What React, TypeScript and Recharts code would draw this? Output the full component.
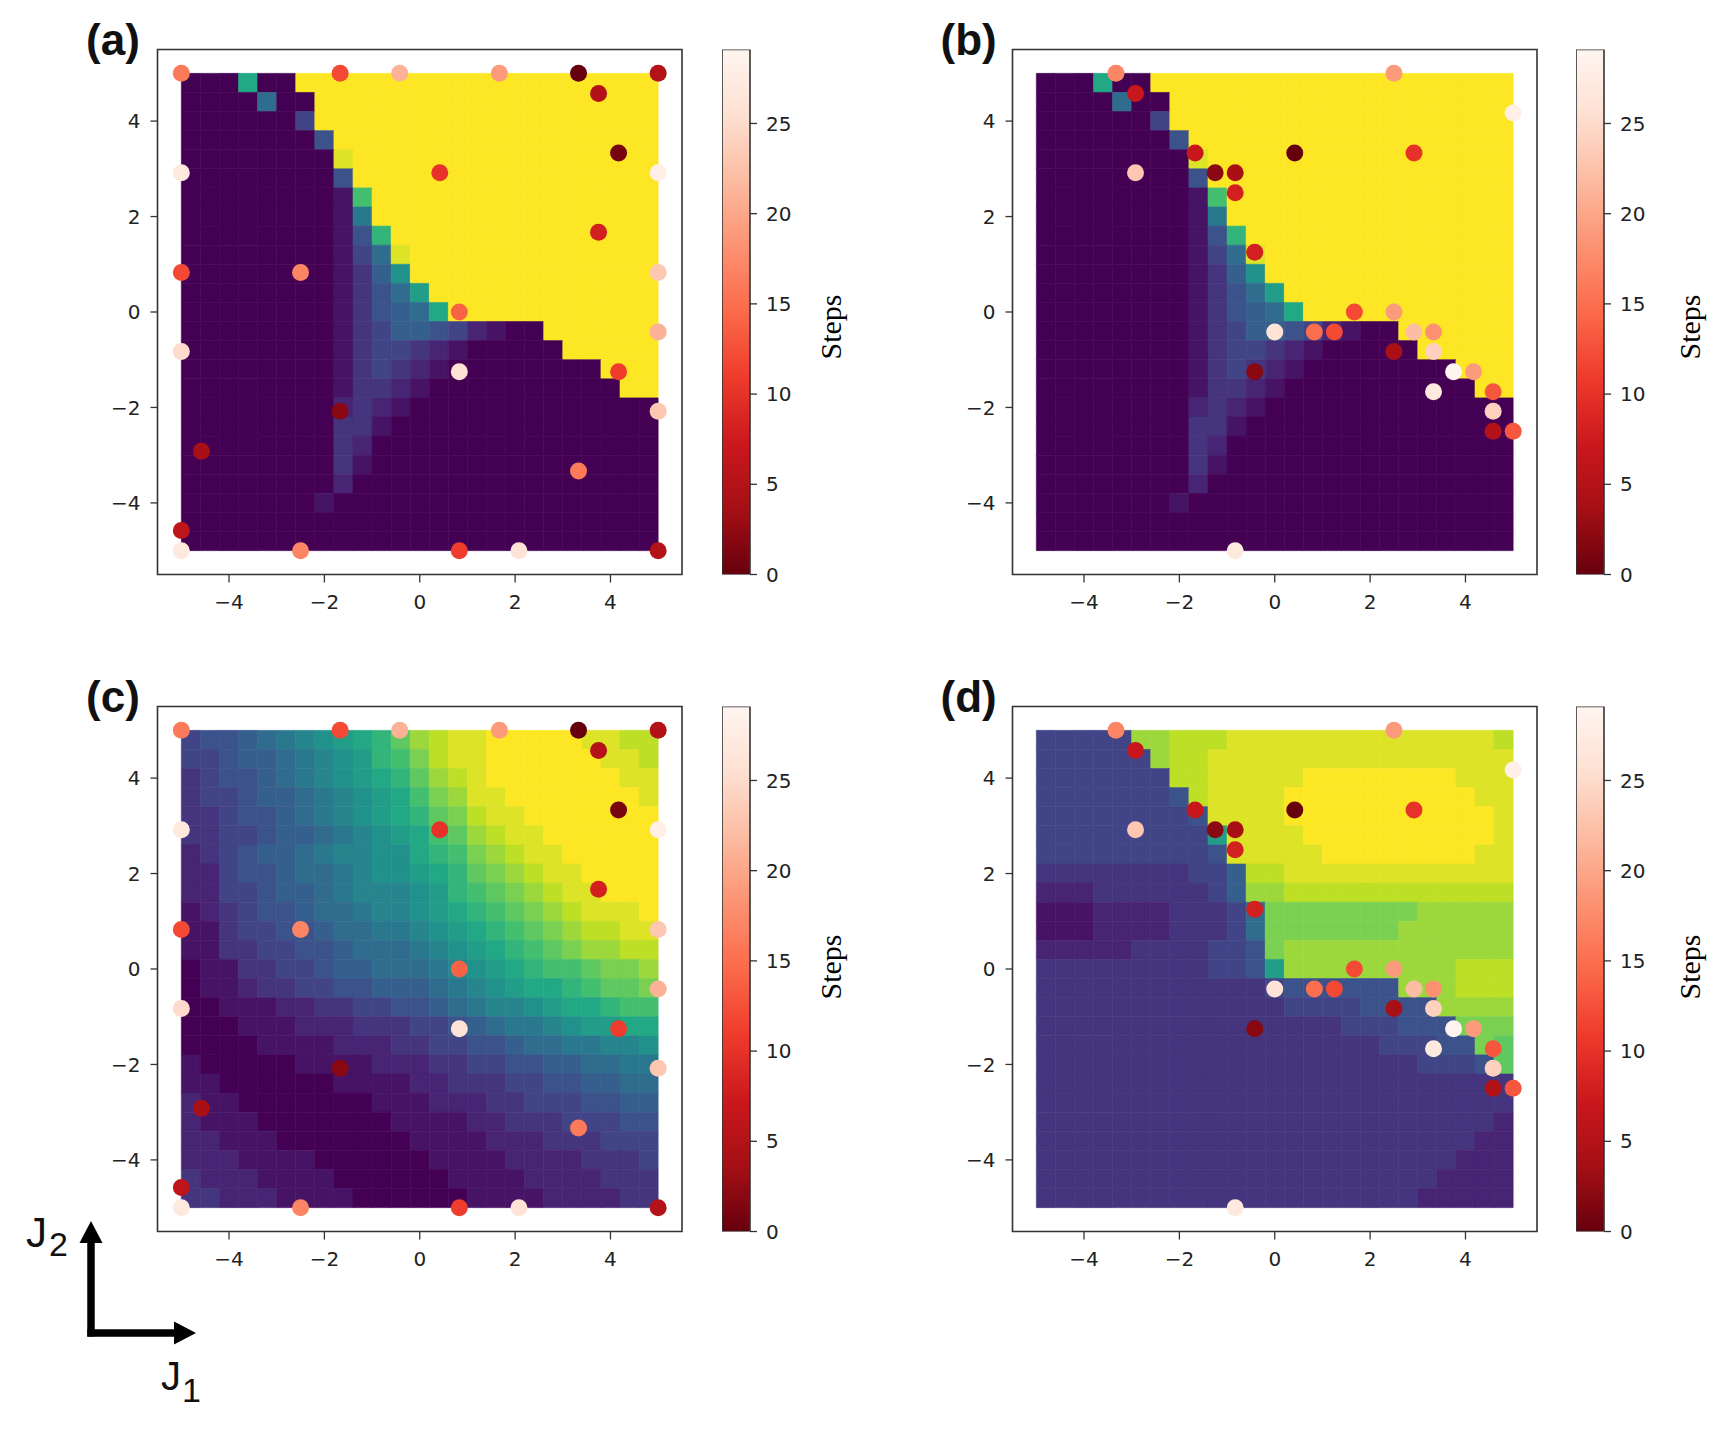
import React from 'react';
import { ScatterChart, Scatter, XAxis, YAxis, ReferenceArea, BarChart, Bar } from 'recharts';

// axes
const AXIS_TICKS = [-4, -2, 0, 2, 4];
const AXIS_DOMAIN: [number, number] = [-5.5, 5.5];
const GRID_MIN = -5;
const GRID_MAX = 5;
const GRID_CELL = 0.4;

// colorbar
const STEP_TICKS = [0, 5, 10, 15, 20, 25];
const STEP_MAX = 29.1;
const COLORBAR_DATA = [{ name: 'Steps', value: STEP_MAX }];

// heatmap levels: one char per cell, '0' = lowest ... 'K' = highest (viridis)
const LEVELS = '0123456789ABCDEFGHIJK';

// rows from top (J2 = 5) to bottom (J2 = -5), columns from J1 = -5 to 5
const MAP_AB = [
  '000C00KKKKKKKKKKKKKKKKKKK',
  '0000700KKKKKKKKKKKKKKKKKK',
  '0000004KKKKKKKKKKKKKKKKKK',
  '00000005KKKKKKKKKKKKKKKKK',
  '00000000JKKKKKKKKKKKKKKKK',
  '000000005KKKKKKKKKKKKKKKK',
  '000000001EKKKKKKKKKKKKKKK',
  '0000000018KKKKKKKKKKKKKKK',
  '0000000015DKKKKKKKKKKKKKK',
  '00000000147JKKKKKKKKKKKKK',
  '00000000136AKKKKKKKKKKKKK',
  '000000001357BKKKKKKKKKKKK',
  '0000000013567CKKKKKKKKKKK',
  '0000000013466542100KKKKKK',
  '00000000134432100000KKKKK',
  '0000000013432100000000KKK',
  '00000000133210000000000KK',
  '0000000023210000000000000',
  '0000000033100000000000000',
  '0000000032000000000000000',
  '0000000031000000000000000',
  '0000000020000000000000000',
  '0000000100000000000000000',
  '0000000000000000000000000',
  '0000000000000000000000000',
];

const MAP_C = [
  '4556789ABCDFHIJJKKKKKJJII',
  '44566789ABDEGIJJKKKKKKJJI',
  '34556789ABCDFHIJKKKKKKKJJ',
  '344566789ABCEGHJJKKKKKKKJ',
  '334556789ABCDFGIJJKKKKKKK',
  '3344566789ABCEFHIJJKKKKKK',
  '2345667899AACDEGHIJJKKKKK',
  '2245567789AABCDFGHIJJKKKK',
  '224456678999ABDEFGHIJJKKK',
  '123455677899ABCDEFGHIJJJK',
  '1134455677889ABCDEFGHIIJJ',
  '11334455677789ABCDEFGHHII',
  '011334456677789ABCDEEFGGH',
  '0112334455666789ABCCDEFFG',
  '001112233445567899ABCCDEE',
  '00011122233344567889ABBCC',
  '000011112223344556778899A',
  '1000001111222334455667788',
  '1100000011112233344556677',
  '2110000000111222334445566',
  '2111000000011112233344455',
  '2211100000001111222333444',
  '2221111000000111122223334',
  '3222111100000011112222333',
  '3322211110000001111222233',
];

const MAP_D = [
  '44444HHIIIJJJJJJJJJJJJJJI',
  '444444HIIJJJJJJJJJJJJJJJJ',
  '4444444IIJJJJJKKKKKKKKJJJ',
  '44444445IJJJJKKKKKKKKKKJJ',
  '444444445JJJJKKKKKKKKKKKJ',
  '444444444BJJJJKKKKKKKKKKJ',
  '4444444445JJJJJKKKKKKKKJJ',
  '33333333446IIJJJJJJJJJJJJ',
  '22233333346HHIIIIIIIIIIII',
  '111222233347GGGGGGGGHHHHH',
  '111222233347GGGGGGGHHHHHH',
  '222223333445GHHHHHHHHHHHH',
  '333333333445BHHHHHHHHHIII',
  '3333333333334555555HHHIII',
  '333333333333344445555HHHH',
  '3333333333333333444555GGG',
  '33333333333333333344455GF',
  '333333333333333333334445F',
  '3333333333333333333333333',
  '3333333333333333333333333',
  '3333333333333333333333332',
  '3333333333333333333333322',
  '3333333333333333333333222',
  '3333333333333333333332222',
  '3333333333333333333322222',
];

// sample points [J1, J2, steps]
const POINTS_AC: [number, number, number][] = [
  [-5, 5, 16], [-1.67, 5, 12], [-0.42, 5, 21], [1.67, 5, 19], [3.33, 5, 0], [5, 5, 5],
  [3.75, 4.58, 5], [4.17, 3.33, 1], [0.42, 2.92, 10], [3.75, 1.67, 8],
  [-5, 2.92, 27], [5, 2.92, 28], [-5, 0.83, 12], [-2.5, 0.83, 17], [5, 0.83, 23],
  [0.83, 0, 14], [5, -0.42, 21], [-5, -0.83, 25], [0.83, -1.25, 26], [4.17, -1.25, 11],
  [-1.67, -2.08, 2], [5, -2.08, 23], [-4.58, -2.92, 4], [3.33, -3.33, 16], [-5, -4.58, 6],
  [-5, -5, 27], [-2.5, -5, 17], [0.83, -5, 11], [2.08, -5, 26], [5, -5, 5],
];

const POINTS_BD: [number, number, number][] = [
  [-3.33, 5, 17], [-2.92, 4.58, 7], [-2.92, 2.92, 23], [-1.67, 3.33, 7], [-1.25, 2.92, 2],
  [-0.83, 2.92, 4], [-0.83, 2.5, 8], [-0.42, 1.25, 8], [0.42, 3.33, 0], [2.5, 5, 19],
  [2.92, 3.33, 10], [5, 4.17, 28], [1.67, 0, 12], [2.5, 0, 19], [0, -0.42, 26],
  [0.83, -0.42, 15], [1.25, -0.42, 12], [2.92, -0.42, 22], [3.33, -0.42, 18], [2.5, -0.83, 4],
  [3.33, -0.83, 24], [-0.42, -1.25, 2], [3.75, -1.25, 29], [4.17, -1.25, 19], [3.33, -1.67, 27],
  [4.58, -1.67, 13], [4.58, -2.08, 24], [4.58, -2.5, 5], [5, -2.5, 13], [-0.83, -5, 27],
];

const VIRIDIS = ['#440154', '#482475', '#414487', '#355f8d', '#2a788e', '#21918c', '#22a884', '#44bf70', '#7ad151', '#bddf26', '#fde725'];
const REDS_R = ['#67000d', '#a50f15', '#cb181d', '#ef3b2c', '#fb6a4a', '#fc9272', '#fcbba1', '#fee0d2', '#fff5f0'];

const hexToRgb = (h: string) => [1, 3, 5].map(i => parseInt(h.slice(i, i + 2), 16));

const sample = (stops: string[], t: number) => {
  const u = Math.min(1, Math.max(0, t)) * (stops.length - 1);
  const i = Math.min(stops.length - 2, Math.floor(u));
  const f = u - i;
  const a = hexToRgb(stops[i]);
  const b = hexToRgb(stops[i + 1]);
  return `rgb(${a.map((v, k) => Math.round(v + (b[k] - v) * f)).join(',')})`;
};

const stepColor = (steps: number) => sample(REDS_R, steps / STEP_MAX);

const toPoints = (list: [number, number, number][]) => list.map(([x, y, steps]) => ({ x, y, steps }));

const fmtTick = (v: number) => (v < 0 ? `\u2212${-v}` : `${v}`);

const TICK_STYLE = { fontSize: 20, fill: '#222', fontFamily: 'DejaVu Sans' };

const heatCells = (grid: string[], tag: string) =>
  grid.flatMap((row, r) =>
    row.split('').map((ch, c) => {
      const color = sample(VIRIDIS, LEVELS.indexOf(ch) / (LEVELS.length - 1));
      const x1 = GRID_MIN + c * GRID_CELL;
      const y2 = GRID_MAX - r * GRID_CELL;
      return (
        <ReferenceArea
          key={`${tag}-${r}-${c}`}
          x1={x1}
          x2={x1 + GRID_CELL}
          y1={y2 - GRID_CELL}
          y2={y2}
          fill={color}
          fillOpacity={1}
          stroke={color}
          strokeWidth={0.6}
          ifOverflow="visible"
        />
      );
    })
  );

const Dot = (props: any) => {
  const { cx, cy, payload } = props;
  if (cx == null || cy == null) return null;
  return <circle cx={cx} cy={cy} r={8.5} fill={stepColor(payload.steps)} />;
};

const Panel: React.FC<{ left: number; top: number; grid: string[]; points: [number, number, number][]; tag: string }> = ({ left, top, grid, points, tag }) => (
  <div style={{ position: 'absolute', left, top }}>
    <ScatterChart width={692} height={640} margin={{ top: 49.5, right: 10, bottom: 0, left: 0 }}>
      <XAxis
        type="number"
        dataKey="x"
        domain={AXIS_DOMAIN}
        ticks={AXIS_TICKS}
        tickFormatter={fmtTick}
        height={65.5}
        axisLine={false}
        tickSize={8}
        tickMargin={12}
        tickLine={{ stroke: '#333', strokeWidth: 1.3 }}
        tick={TICK_STYLE}
        allowDataOverflow
      />
      <YAxis
        type="number"
        dataKey="y"
        domain={AXIS_DOMAIN}
        ticks={AXIS_TICKS}
        tickFormatter={fmtTick}
        width={157.5}
        axisLine={false}
        tickSize={7}
        tickMargin={10}
        tickLine={{ stroke: '#333', strokeWidth: 1.3 }}
        tick={TICK_STYLE}
        allowDataOverflow
      />
      {heatCells(grid, tag)}
      <ReferenceArea x1={AXIS_DOMAIN[0]} x2={AXIS_DOMAIN[1]} y1={AXIS_DOMAIN[0]} y2={AXIS_DOMAIN[1]} fill="none" stroke="#333" strokeWidth={1.6} ifOverflow="visible" />
      <Scatter data={toPoints(points)} shape={Dot} isAnimationActive={false} />
    </ScatterChart>
  </div>
);

const ColorBar: React.FC<{ left: number; top: number }> = ({ left, top }) => (
  <div style={{ position: 'absolute', left, top }}>
    <BarChart width={90} height={600} data={COLORBAR_DATA} margin={{ top: 49.5, right: 0, bottom: 25.5, left: 0 }} barCategoryGap={0}>
      <XAxis dataKey="name" hide />
      <YAxis
        orientation="right"
        type="number"
        domain={[0, STEP_MAX]}
        ticks={STEP_TICKS}
        width={62}
        axisLine={false}
        tickSize={7}
        tickMargin={9}
        tickLine={{ stroke: '#333', strokeWidth: 1.3 }}
        tick={{ ...TICK_STYLE, textAnchor: 'start' }}
        allowDataOverflow
      />
      <Bar dataKey="value" fill="url(#stepsGrad)" stroke="#333" strokeWidth={1.6} isAnimationActive={false} />
    </BarChart>
  </div>
);

const DX = 854.5;
const DY = 657;

const PANELS = [
  { tag: 'a', left: 0, top: 0, grid: MAP_AB, points: POINTS_AC },
  { tag: 'b', left: DX, top: 0, grid: MAP_AB, points: POINTS_BD },
  { tag: 'c', left: 0, top: DY, grid: MAP_C, points: POINTS_AC },
  { tag: 'd', left: DX, top: DY, grid: MAP_D, points: POINTS_BD },
];

const STEPS_LABEL_Y = [327, 327, 967, 967];

export default function App() {
  return (
    <div style={{ position: 'absolute', left: 0, top: 0, width: 1725, height: 1429, background: '#fff', overflow: 'hidden' }}>
      <svg width={0} height={0} style={{ position: 'absolute' }}>
        <defs>
          <linearGradient id="stepsGrad" x1="0" y1="1" x2="0" y2="0">
            {REDS_R.map((c, i) => (
              <stop key={c} offset={`${(i / (REDS_R.length - 1)) * 100}%`} stopColor={c} />
            ))}
          </linearGradient>
        </defs>
      </svg>

      {PANELS.map(p => (
        <React.Fragment key={p.tag}>
          <Panel left={p.left} top={p.top} grid={p.grid} points={p.points} tag={p.tag} />
          <ColorBar left={721.5 + p.left} top={p.top} />
        </React.Fragment>
      ))}

      <svg width={1725} height={1429} style={{ position: 'absolute', left: 0, top: 0, pointerEvents: 'none' }}>
        {PANELS.map((p, i) => (
          <g key={p.tag}>
            <text x={86 + p.left} y={55 + p.top} fontSize={44} fontWeight="bold" fontFamily="Liberation Sans, Arial, sans-serif" fill="#111">
              ({p.tag})
            </text>
            <text
              x={830 + (p.left ? 859 : 0)}
              y={STEPS_LABEL_Y[i]}
              fontSize={30}
              fontFamily="Liberation Serif, Times New Roman, serif"
              fill="#000"
              textAnchor="middle"
              dominantBaseline="central"
              transform={`rotate(-90 ${830 + (p.left ? 859 : 0)} ${STEPS_LABEL_Y[i]})`}
            >
              Steps
            </text>
          </g>
        ))}

        {/* J1 / J2 direction arrows */}
        <line x1={91} y1={1336.5} x2={91} y2={1241} stroke="#000" strokeWidth={7.5} />
        <polygon points="79.5,1243 102.5,1243 91,1221" fill="#000" />
        <line x1={87.3} y1={1333} x2={176} y2={1333} stroke="#000" strokeWidth={7.5} />
        <polygon points="174,1321.5 174,1344.5 196,1333" fill="#000" />
        <text x={26} y={1247} fontSize={42} fontFamily="Liberation Sans, Arial, sans-serif" fill="#111">J</text>
        <text x={49} y={1256} fontSize={34} fontFamily="Liberation Sans, Arial, sans-serif" fill="#111">2</text>
        <text x={161} y={1390} fontSize={40} fontFamily="Liberation Sans, Arial, sans-serif" fill="#111">J</text>
        <text x={182} y={1402} fontSize={34} fontFamily="Liberation Sans, Arial, sans-serif" fill="#111">1</text>
      </svg>
    </div>
  );
}
